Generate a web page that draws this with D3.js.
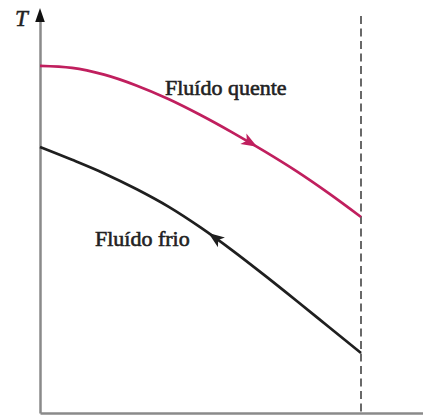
<!DOCTYPE html>
<html>
<head>
<meta charset="utf-8">
<script src="https://cdn.jsdelivr.net/npm/d3@7"></script>
<style>
  html, body { margin: 0; padding: 0; background: #fff; }
  svg { display: block; }
</style>
</head>
<body>
<svg id="chart" width="423" height="419"></svg>
<script>
// Position along the exchanger (0 = inlet end, 1 = outlet end)
const positions = [0, 0.1, 0.2, 0.3, 0.4, 0.5, 0.6, 0.7, 0.8, 0.9, 1.0];
// Temperature of the hot fluid (flows left to right)
const hotTemps  = [86.8, 86.3, 84.6, 81.9, 78.5, 74.5, 70.1, 65.4, 60.4, 54.9, 49.0];
// Temperature of the cold fluid (flows right to left)
const coldTemps = [66.5, 63.3, 59.9, 56.0, 51.6, 46.4, 40.6, 34.4, 28.0, 21.5, 15.0];
// Series labels and the position of each flow-direction arrow
const seriesNames = ["Fluído quente", "Fluído frio"];
const arrowPositions = [0.655, 0.545];
const arrowDirections = [1, -1];
const axisLabel = "T";

(function draw() {
  const svg = d3.select("#chart");
  const W = 423;
  const mLeft = 40, mRight = 361, mBottom = 413, mTop = 13;

  const x = d3.scaleLinear().domain([0, 1]).range([mLeft, mRight]);
  const y = d3.scaleLinear().domain([0, 100]).range([mBottom, mTop]);

  const axisColor = "#8a8a8a";
  const serif = "'Liberation Serif', 'Times New Roman', Times, serif";

  // Horizontal axis runs past the exchanger end to the edge
  const xAxisScale = d3.scaleLinear().domain([0, x.invert(W)]).range([mLeft, W]);
  const gx = svg.append("g").attr("transform", `translate(0,${mBottom})`)
    .call(d3.axisBottom(xAxisScale).tickValues([]).tickSizeOuter(0));
  gx.select(".domain").attr("stroke", axisColor).attr("stroke-width", 2.5);

  // Vertical temperature axis with arrowhead
  const gy = svg.append("g").attr("transform", `translate(${mLeft},0)`)
    .call(d3.axisLeft(y).tickValues([]).tickSizeOuter(0));
  gy.select(".domain").attr("stroke", axisColor).attr("stroke-width", 2.5);
  svg.append("path")
    .attr("d", `M${mLeft},${mTop - 5} L${mLeft + 4.8},${mTop + 9} L${mLeft - 4.8},${mTop + 9} Z`)
    .attr("fill", "#111");

  svg.append("text")
    .attr("x", 15).attr("y", 26)
    .attr("font-family", serif)
    .attr("font-style", "italic")
    .attr("font-size", 23)
    .attr("fill", "#222")
    .attr("stroke", "#222")
    .attr("stroke-width", 0.5)
    .text(axisLabel);

  // Dashed line marking the exchanger outlet
  svg.append("line")
    .attr("x1", x(1)).attr("x2", x(1))
    .attr("y1", 16).attr("y2", mBottom)
    .attr("stroke", "#444").attr("stroke-width", 1.6)
    .attr("stroke-dasharray", "8,4.5");

  const line = d3.line()
    .x(d => x(d[0]))
    .y(d => y(d[1]))
    .curve(d3.curveMonotoneX);

  const series = [
    { name: seriesNames[0], temps: hotTemps,  color: "#c01f5e", label: [165, 95] },
    { name: seriesNames[1], temps: coldTemps, color: "#1f1f1f", label: [95, 246] }
  ];

  series.forEach((s, i) => {
    const pts = positions.map((p, k) => [p, s.temps[k]]);
    const path = svg.append("path")
      .datum(pts)
      .attr("d", line)
      .attr("fill", "none")
      .attr("stroke", s.color)
      .attr("stroke-width", 2.7)
      .attr("stroke-linecap", "butt");

    // Arrowhead centred on the curve, pointing in the flow direction
    const node = path.node();
    const total = node.getTotalLength();
    const targetX = x(arrowPositions[i]);
    let lo = 0, hi = total;
    for (let it = 0; it < 40; it++) {
      const mid = (lo + hi) / 2;
      if (node.getPointAtLength(mid).x < targetX) lo = mid; else hi = mid;
    }
    const L = (lo + hi) / 2;
    const p = node.getPointAtLength(L);
    const pa = node.getPointAtLength(Math.max(0, L - 2));
    const pb = node.getPointAtLength(Math.min(total, L + 2));
    let ang = Math.atan2(pb.y - pa.y, pb.x - pa.x) * 180 / Math.PI;
    if (arrowDirections[i] < 0) ang += 180;
    svg.append("path")
      .attr("d", "M8,0 L-8,-6 L-4,0 L-8,6 Z")
      .attr("transform", `translate(${p.x},${p.y}) rotate(${ang})`)
      .attr("fill", s.color);

    svg.append("text")
      .attr("x", s.label[0]).attr("y", s.label[1])
      .attr("font-family", serif)
      .attr("font-size", 22)
      .attr("fill", "#222")
      .attr("stroke", "#222")
      .attr("stroke-width", 0.6)
      .text(s.name);
  });
})();
</script>
</body>
</html>
